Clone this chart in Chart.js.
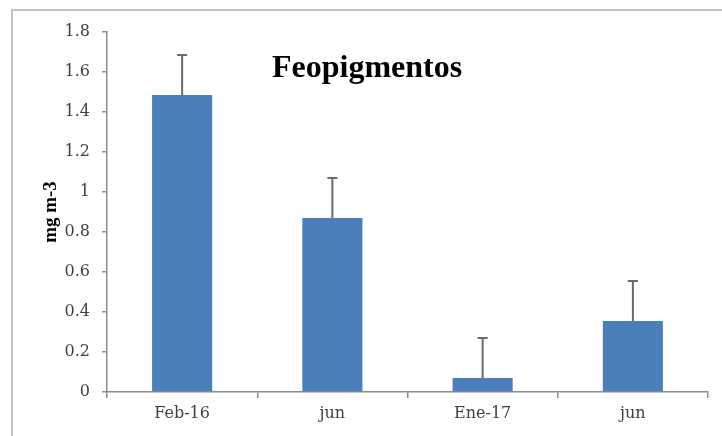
<!DOCTYPE html>
<html>
<head>
<meta charset="utf-8">
<script src="https://cdn.jsdelivr.net/npm/chart.js@4/dist/chart.umd.min.js"></script>
<style>
  html, body { margin: 0; padding: 0; background: #ffffff; }
  #wrap { width: 722px; height: 436px; position: relative; }
</style>
</head>
<body>
<div id="wrap"><canvas id="c" width="722" height="436"></canvas></div>
<script>
// Feopigment concentration per sampling date (mean and standard deviation)
const categories = ['Feb-16', 'jun', 'Ene-17', 'jun'];
const means = [1.485, 0.87, 0.07, 0.355];
const errors = [0.2, 0.2, 0.2, 0.2];
const yTicks = [0, 0.2, 0.4, 0.6, 0.8, 1, 1.2, 1.4, 1.6, 1.8];
const chartTitle = 'Feopigmentos';
const yLabel = 'mg m-3';

const axisGray = '#8c8c8c';
const textGray = '#404040';

// Outer frame of the chart
const framePlugin = {
  id: 'frame',
  beforeDraw(chart) {
    const ctx = chart.ctx;
    ctx.save();
    ctx.fillStyle = '#ffffff';
    ctx.fillRect(0, 0, chart.width, chart.height);
    ctx.strokeStyle = '#c3c3c3';
    ctx.lineWidth = 2;
    ctx.strokeRect(12, 10, chart.width + 20, chart.height + 20);
    ctx.restore();
  }
};

// Upper error bars with caps
const errorBarPlugin = {
  id: 'errorBars',
  afterDatasetsDraw(chart) {
    const ctx = chart.ctx;
    const y = chart.scales.y;
    const meta = chart.getDatasetMeta(0);
    ctx.save();
    ctx.strokeStyle = '#6a6a6a';
    ctx.lineWidth = 2;
    meta.data.forEach((bar, i) => {
      const yBase = y.getPixelForValue(means[i]);
      const yTop = y.getPixelForValue(means[i] + errors[i]);
      ctx.beginPath();
      ctx.moveTo(bar.x, yBase);
      ctx.lineTo(bar.x, yTop);
      ctx.moveTo(bar.x - 5, yTop);
      ctx.lineTo(bar.x + 5, yTop);
      ctx.stroke();
    });
    ctx.restore();
  }
};

// Title placed inside the plot area
const innerTitlePlugin = {
  id: 'innerTitle',
  afterDraw(chart) {
    const ctx = chart.ctx;
    const a = chart.chartArea;
    ctx.save();
    ctx.font = 'bold 32px "Liberation Serif", "Times New Roman", serif';
    ctx.fillStyle = '#000000';
    ctx.textAlign = 'left';
    ctx.textBaseline = 'alphabetic';
    ctx.fillText(chartTitle, a.left + 165, a.top + 45);
    ctx.restore();
  }
};

new Chart(document.getElementById('c'), {
  type: 'bar',
  data: {
    labels: categories,
    datasets: [{
      data: means,
      backgroundColor: '#4b7fbc',
      borderWidth: 0,
      barPercentage: 0.4,
      categoryPercentage: 1.0
    }]
  },
  options: {
    responsive: false,
    animation: false,
    events: [],
    layout: { padding: { left: 36, top: 32, right: 14, bottom: 0 } },
    plugins: {
      legend: { display: false },
      tooltip: { enabled: false },
      title: { display: false }
    },
    scales: {
      x: {
        grid: {
          offset: true,
          drawOnChartArea: false,
          drawTicks: true,
          tickLength: 6,
          color: axisGray,
          lineWidth: 1.5
        },
        border: { color: axisGray, width: 1.5 },
        ticks: {
          padding: 6,
          color: textGray,
          font: { family: '"DejaVu Serif", serif', size: 16 },
          maxRotation: 0
        },
        afterFit(scale) { scale.height = 44; }
      },
      y: {
        min: 0,
        max: 1.8,
        afterBuildTicks(scale) {
          scale.ticks = yTicks.map(v => ({ value: v }));
        },
        grid: {
          drawOnChartArea: false,
          drawTicks: true,
          tickLength: 5,
          color: axisGray,
          lineWidth: 1.5
        },
        border: { color: axisGray, width: 1.5 },
        ticks: {
          padding: 12,
          color: textGray,
          font: { family: '"DejaVu Serif", serif', size: 16 },
          callback: (v) => String(v)
        },
        title: {
          display: true,
          text: yLabel,
          color: '#000000',
          padding: { top: 4, bottom: 0 },
          font: { family: '"Liberation Serif", "Times New Roman", serif', size: 19, weight: 'bold' }
        },
        afterFit(scale) { scale.width = 71; }
      }
    }
  },
  plugins: [framePlugin, errorBarPlugin, innerTitlePlugin]
});
</script>
</body>
</html>
